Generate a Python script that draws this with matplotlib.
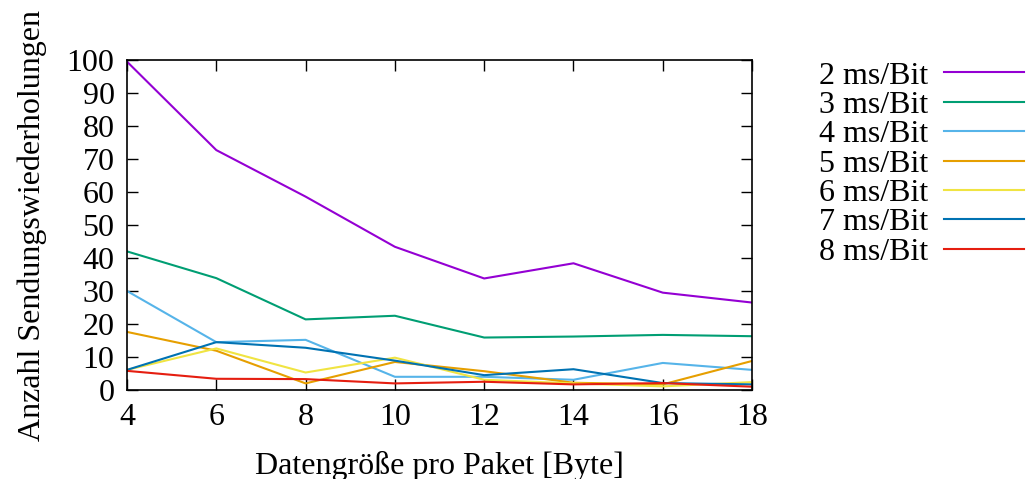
import matplotlib.pyplot as plt

plt.rcParams['font.family'] = ['Liberation Serif', 'DejaVu Serif']

groesse = [4, 6, 8, 10, 12, 14, 16, 18]
labels = ['2 ms/Bit', '3 ms/Bit', '4 ms/Bit', '5 ms/Bit', '6 ms/Bit', '7 ms/Bit', '8 ms/Bit']
farben = ['#9400d3', '#009e73', '#56b4e9', '#e69f00', '#f0e442', '#0072b2', '#e51e10']

ms2 = [99.5, 72.7, 58.6, 43.4, 33.8, 38.4, 29.5, 26.5]
ms3 = [42.0, 33.9, 21.4, 22.5, 15.9, 16.2, 16.7, 16.3]
ms4 = [30.0, 14.5, 15.2, 4.0, 4.0, 3.1, 8.2, 6.1]
ms5 = [17.6, 11.9, 2.0, 8.5, 5.7, 2.2, 1.7, 8.8]
ms6 = [6.1, 12.6, 5.3, 9.8, 3.1, 2.0, 1.1, 2.4]
ms7 = [6.1, 14.5, 12.8, 8.9, 4.5, 6.3, 2.1, 1.7]
ms8 = [5.8, 3.4, 3.3, 2.0, 2.5, 1.7, 2.1, 1.0]

reihen = [ms2, ms3, ms4, ms5, ms6, ms7, ms8]

fig = plt.figure(figsize=(10.26, 4.79), dpi=100)
ax = fig.add_axes([0.1238, 0.1858, 0.6092, 0.6889])

for werte, lab, col in zip(reihen, labels, farben):
    ax.plot(groesse, werte, color=col, lw=1.5, label=lab)

ax.set_xlim(4, 18)
ax.set_ylim(0, 100)
ax.set_xticks(groesse)
ax.set_yticks(range(0, 101, 10))
ax.tick_params(direction='in', length=8, width=1, top=True, right=True,
               labelsize=23, pad=9)
for s in ax.spines.values():
    s.set_linewidth(1.2)

ax.set_xlabel('Datengröße pro Paket [Byte]', fontsize=23, labelpad=14)
ax.set_ylabel('Anzahl Sendungswiederholungen', fontsize=23, labelpad=14)

fig.legend(loc='upper right', bbox_to_anchor=(0.998, 0.872), frameon=False,
           markerfirst=False, fontsize=23, handlelength=2.5, handletextpad=0.5,
           labelspacing=0.0, borderpad=0, borderaxespad=0)

fig.savefig('out.png', dpi=100)
